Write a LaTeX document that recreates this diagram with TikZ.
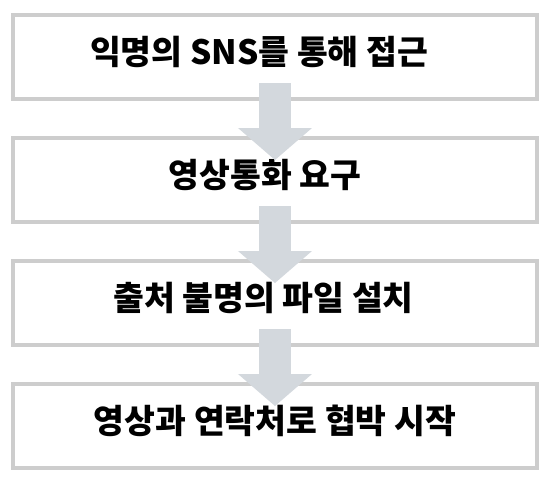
\documentclass[tikz,border=0pt]{standalone}
\usepackage{fontspec}
\setmainfont{Noto Sans CJK KR}[BoldFont={Noto Sans CJK KR Black}]
\usetikzlibrary{positioning,arrows.meta}

\definecolor{boxline}{HTML}{CDCDCD}
\definecolor{arrowgray}{HTML}{D3D8DD}

\tikzset{
  stepbox/.style={draw=boxline, line width=4pt, fill=white,
    minimum width=524pt, minimum height=84pt,
    text height=27pt, text depth=12pt,
    font=\fontsize{33.5}{38}\selectfont\bfseries},
  textleft/.style={execute at end node={\hspace*{#1}}},
  flowarrow/.style={draw=arrowgray, line width=32pt,
    -{Triangle[width=74pt,length=32pt,line width=0pt]}}
}

\begin{document}
\begin{tikzpicture}
  \useasboundingbox (-275pt,57pt) rectangle (277pt,-431pt);

  % Define nodes
  \node[stepbox, textleft=32pt]                       (access)  {익명의 SNS를 통해 접근};
  \node[stepbox, textleft=20pt, below=35pt of access]  (video)   {영상통화 요구};
  \node[stepbox, textleft=23pt, below=35pt of video]   (install) {출처 불명의 파일 설치};
  \node[stepbox, below=35pt of install]                (threat)  {영상과 연락처로 협박 시작};

  % Connect the nodes
  \draw[flowarrow] ([yshift=18pt]access.south)  -- ([yshift=-24pt]video.north);
  \draw[flowarrow] ([yshift=18pt]video.south)   -- ([yshift=-24pt]install.north);
  \draw[flowarrow] ([yshift=18pt]install.south) -- ([yshift=-24pt]threat.north);
\end{tikzpicture}
\end{document}
